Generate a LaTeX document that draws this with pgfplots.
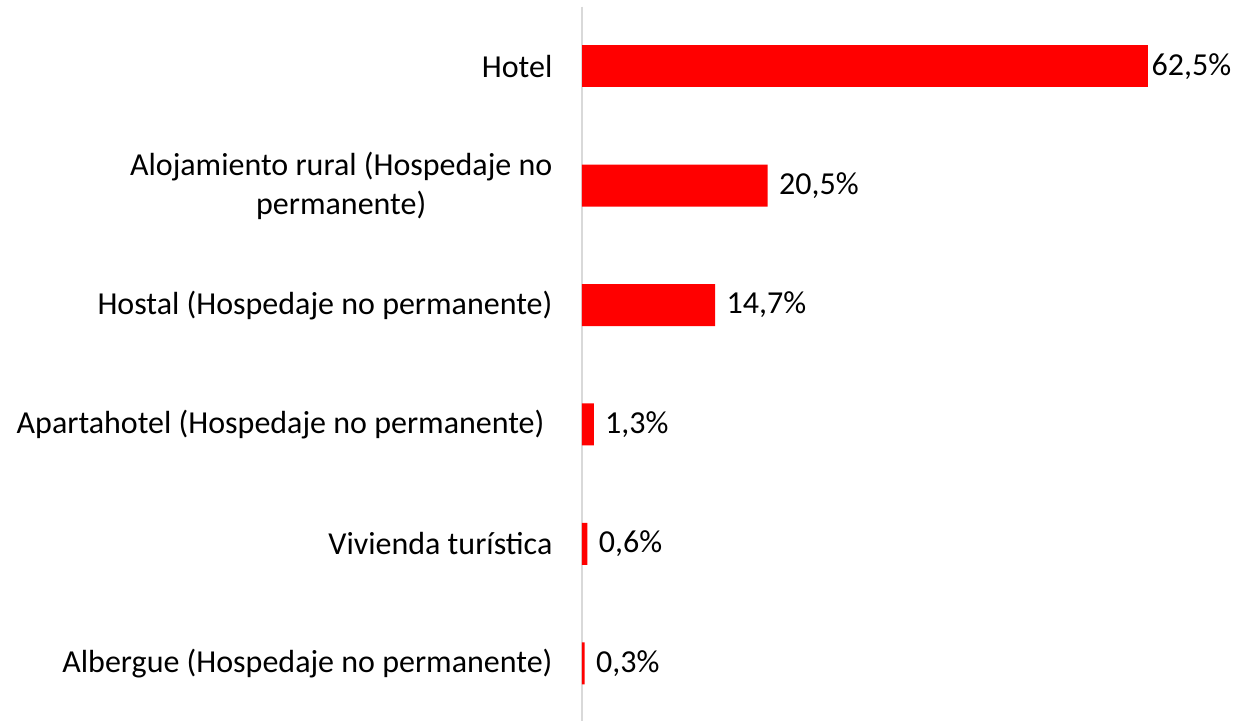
\documentclass[border=0pt]{standalone}
\usepackage{fontspec}
\setmainfont{Carlito}
\usepackage{pgfplots}
\pgfplotsset{compat=1.18}
\definecolor{barred}{HTML}{FF0000}
\definecolor{axgray}{HTML}{D9D9D9}
\begin{document}
\begin{tikzpicture}
\path[use as bounding box] (0,0) rectangle (619pt,360.5pt);
\begin{axis}[
  at={(291pt,-1pt)}, anchor=south west,
  scale only axis, width=328pt, height=358.2pt,
  xbar, bar width=21pt, bar shift=0pt,
  xmin=0, xmax=72.4, ymin=-0.5, ymax=5.5, y dir=reverse,
  axis x line=none, axis y line*=left,
  axis line style={draw=axgray, line width=0.8pt},
  ytick={0,1,2,3,4,5},
  yticklabels={Hotel, {Alojamiento rural (Hospedaje no\\permanente)}, Hostal (Hospedaje no permanente), {Apartahotel (Hospedaje no permanente)\hspace*{0.25em}}, Vivienda turística, Albergue (Hospedaje no permanente)},
  ytick style={draw=none},
  yticklabel style={font=\fontsize{16}{19.5}\selectfont, align=center, text=black, xshift=-7pt},
  /pgf/number format/.cd, fixed, fixed zerofill, precision=1, use comma, assume math mode=true,
  /pgfplots/.cd,
  nodes near coords={\pgfmathprintnumber{\pgfplotspointmeta}\%},
  nodes near coords style={font=\fontsize{16}{19.5}\selectfont, anchor=west, inner sep=0pt, text=black},
]
\addplot[fill=barred, draw=none, nodes near coords style={xshift=1.5pt}] coordinates {(62.5,0)};
\addplot[fill=barred, draw=none, nodes near coords style={xshift=5.5pt}] coordinates {(20.5,1) (14.7,2) (1.3,3) (0.6,4) (0.3,5)};
\end{axis}
\end{tikzpicture}
\end{document}
